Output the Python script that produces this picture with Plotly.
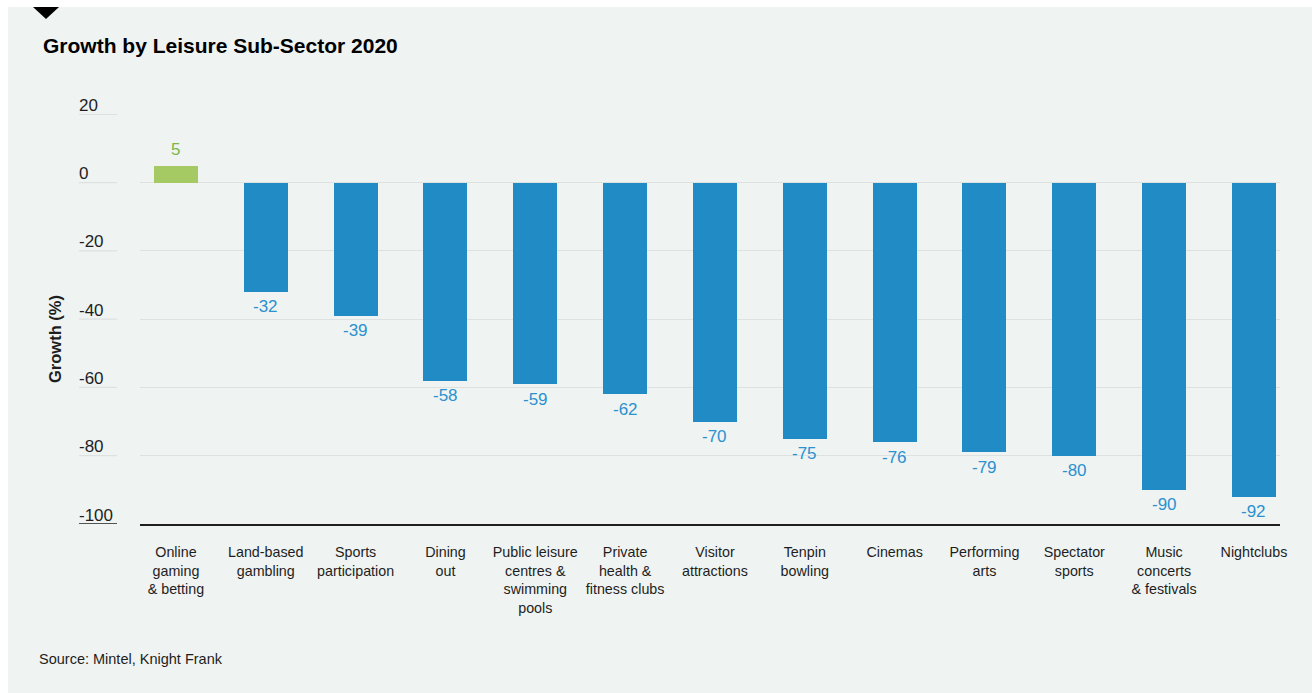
import plotly.graph_objects as go

# Leisure sub-sectors and their 2020 growth (%)
categories = [
    "Online<br>gaming<br>& betting",
    "Land-based<br>gambling",
    "Sports<br>participation",
    "Dining<br>out",
    "Public leisure<br>centres &<br>swimming<br>pools",
    "Private<br>health &<br>fitness clubs",
    "Visitor<br>attractions",
    "Tenpin<br>bowling",
    "Cinemas",
    "Performing<br>arts",
    "Spectator<br>sports",
    "Music<br>concerts<br>& festivals",
    "Nightclubs",
]
growth = [5, -32, -39, -58, -59, -62, -70, -75, -76, -79, -80, -90, -92]
y_ticks = [20, 0, -20, -40, -60, -80, -100]

TITLE = "Growth by Leisure Sub-Sector 2020"
Y_TITLE = "Growth (%)"
SOURCE = "Source: Mintel, Knight Frank"

# page geometry
W, H = 1312, 693
ML, MR, MT, MB = 140, 32, 114, 169
PW = W - ML - MR
PH = H - MT - MB


def px(x):
    """pixel x -> paper x"""
    return (x - ML) / PW


def py(y):
    """pixel y -> paper y"""
    return (H - MB - y) / PH


FONT = "Liberation Sans, Arial, sans-serif"
BG = "#eff3f2"
BLUE = "#218bc5"
GREEN = "#a6ca63"
BLUE_TXT = "#2b91cf"
GREEN_TXT = "#78b848"
INK = "#1e1e1e"
GRID = "#dde1e0"

bar_colors = [GREEN if v > 0 else BLUE for v in growth]

fig = go.Figure(
    go.Bar(
        x=categories,
        y=growth,
        marker=dict(color=bar_colors, line=dict(width=0)),
        width=0.49,
        hoverinfo="skip",
    )
)

annotations = []

# value labels next to each bar end
for cat, v in zip(categories, growth):
    annotations.append(dict(
        x=cat, y=v, xref="x", yref="y",
        text=str(v), showarrow=False,
        xanchor="center", yanchor="middle",
        yshift=16 if v > 0 else -15,
        font=dict(family=FONT, size=17, color=GREEN_TXT if v > 0 else BLUE_TXT),
    ))

# y tick labels sit above their gridline, left aligned
shapes = []
for t in y_ticks:
    annotations.append(dict(
        x=px(79), y=t, xref="paper", yref="y",
        text=str(t), showarrow=False,
        xanchor="left", yanchor="middle", yshift=9, xshift=-2,
        font=dict(family=FONT, size=17, color=INK),
    ))
    shapes.append(dict(
        type="line", xref="paper", yref="y",
        x0=px(79), x1=px(117), y0=t, y1=t,
        line=dict(color=INK if t == y_ticks[-1] else GRID, width=1.5 if t == y_ticks[-1] else 1.2),
    ))

# axis title
annotations.append(dict(
    x=px(55), y=py(339), xref="paper", yref="paper",
    text="<b>" + Y_TITLE + "</b>", showarrow=False, textangle=-90,
    xanchor="center", yanchor="middle",
    font=dict(family=FONT, size=16.5, color=INK),
))

# chart title
annotations.append(dict(
    x=px(41), y=py(45), xref="paper", yref="paper",
    text="<b>" + TITLE + "</b>", showarrow=False,
    xanchor="left", yanchor="middle",
    font=dict(family=FONT, size=21, color="#000000"),
))

# source note
annotations.append(dict(
    x=px(37), y=py(659), xref="paper", yref="paper",
    text=SOURCE, showarrow=False,
    xanchor="left", yanchor="middle",
    font=dict(family=FONT, size=14.5, color=INK),
))

# white frame strips along the top and left edges
shapes.append(dict(type="rect", xref="paper", yref="paper", layer="below",
                   x0=px(0), x1=px(W), y0=py(7), y1=py(0),
                   fillcolor="#ffffff", line=dict(width=0)))
shapes.append(dict(type="rect", xref="paper", yref="paper", layer="below",
                   x0=px(0), x1=px(8), y0=py(H), y1=py(0),
                   fillcolor="#ffffff", line=dict(width=0)))

# black marker triangle at the top-left
shapes.append(dict(
    type="path", xref="paper", yref="paper",
    path=f"M {px(33)} {py(7)} L {px(59)} {py(7)} L {px(46)} {py(19)} Z",
    fillcolor="#000000", line=dict(width=0),
))

fig.update_layout(
    width=W, height=H,
    margin=dict(l=ML, r=MR, t=MT, b=MB, pad=0),
    paper_bgcolor=BG,
    plot_bgcolor=BG,
    showlegend=False,
    bargap=0,
    font=dict(family=FONT, color=INK),
    annotations=annotations,
    shapes=shapes,
    xaxis=dict(
        type="category",
        range=[-0.40, 12.29],
        showgrid=False,
        zeroline=False,
        showline=True,
        linecolor=INK,
        linewidth=1.5,
        ticks="",
        ticklabelstandoff=14,
        tickfont=dict(family=FONT, size=14.3, color=INK),
        tickangle=0,
        fixedrange=True,
    ),
    yaxis=dict(
        range=[-100, 20.1],
        tickvals=y_ticks,
        showticklabels=False,
        showgrid=True,
        gridcolor=GRID,
        gridwidth=1.2,
        zeroline=False,
        showline=False,
        ticks="",
        fixedrange=True,
    ),
)

fig.write_html("out.html")
